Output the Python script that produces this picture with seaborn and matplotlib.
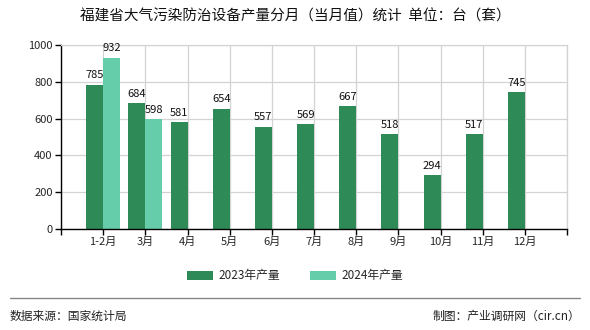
import matplotlib
matplotlib.use("Agg")
import matplotlib.pyplot as plt
import seaborn as sns
import pandas as pd
from matplotlib.lines import Line2D

categories = ["1-2月", "3月", "4月", "5月", "6月", "7月", "8月", "9月", "10月", "11月", "12月"]
values_2023 = [785, 684, 581, 654, 557, 569, 667, 518, 294, 517, 745]
categories_2024 = ["1-2月", "3月"]
values_2024 = [932, 598]
series_names = ["2023年产量", "2024年产量"]
colors = ["#2E8B57", "#66CDAA"]

rows = [{"month": c, "value": v, "series": series_names[0]} for c, v in zip(categories, values_2023)]
rows += [{"month": c, "value": v, "series": series_names[1]} for c, v in zip(categories_2024, values_2024)]
df = pd.DataFrame(rows)

sns.set_theme(style="white")
plt.rcParams["font.family"] = ["Noto Sans CJK SC", "DejaVu Sans"]

fig = plt.figure(figsize=(5.9, 3.3), dpi=100)
ax = fig.add_axes([61/590, 1-229/330, 506/590, 184/330])

sns.barplot(data=df, x="month", y="value", hue="series", order=categories,
            hue_order=series_names, palette=colors, width=0.8, saturation=1,
            linewidth=0, edgecolor="none", ax=ax, legend=True)

for cont in ax.containers:
    ax.bar_label(cont, fmt="%d", padding=3, fontsize=8, color="#111111")

ax.set_xlim(-1, 11)
ax.set_ylim(0, 1000)
ax.set_yticks([0, 200, 400, 600, 800, 1000])
ax.set_xticks(range(-1, 12))
ax.set_xticklabels([""] + categories + [""], fontsize=8)
ax.tick_params(axis="y", labelsize=8, length=4, width=1, color="black", left=True, pad=2)
ax.tick_params(axis="x", length=4, width=1, color="black", bottom=True, pad=2)
ax.set_xlabel("")
ax.set_ylabel("")
ax.grid(True, color="#D3D3D3", linewidth=0.9)
ax.set_axisbelow(True)
for s in ["top", "right"]:
    ax.spines[s].set_color("#D3D3D3")
    ax.spines[s].set_linewidth(0.9)
for s in ["left", "bottom"]:
    ax.spines[s].set_color("black")
    ax.spines[s].set_linewidth(1)

handles, labels = ax.get_legend_handles_labels()
ax.legend_.remove()
fig.legend(handles, labels, loc="center", bbox_to_anchor=(0.5, 1-276/330), ncol=2,
           frameon=False, fontsize=8.5, handlelength=2.2, handleheight=0.7,
           columnspacing=2.5, handletextpad=0.5)

fig.text(0.5, 1-17/330, "福建省大气污染防治设备产量分月（当月值）统计  单位：台（套）",
         ha="center", va="center", fontsize=10.5, fontweight="medium", color="#111111")
fig.add_artist(Line2D([10/590, 580/590], [1-298/330, 1-298/330], color="#888888", linewidth=1))
fig.text(10/590, 1-316/330, "数据来源：国家统计局", ha="left", va="center", fontsize=8.5, color="#222222")
fig.text(580/590, 1-316/330, "制图：产业调研网（cir.cn）", ha="right", va="center", fontsize=8.5, color="#222222")

fig.savefig("out.png", dpi=100)
